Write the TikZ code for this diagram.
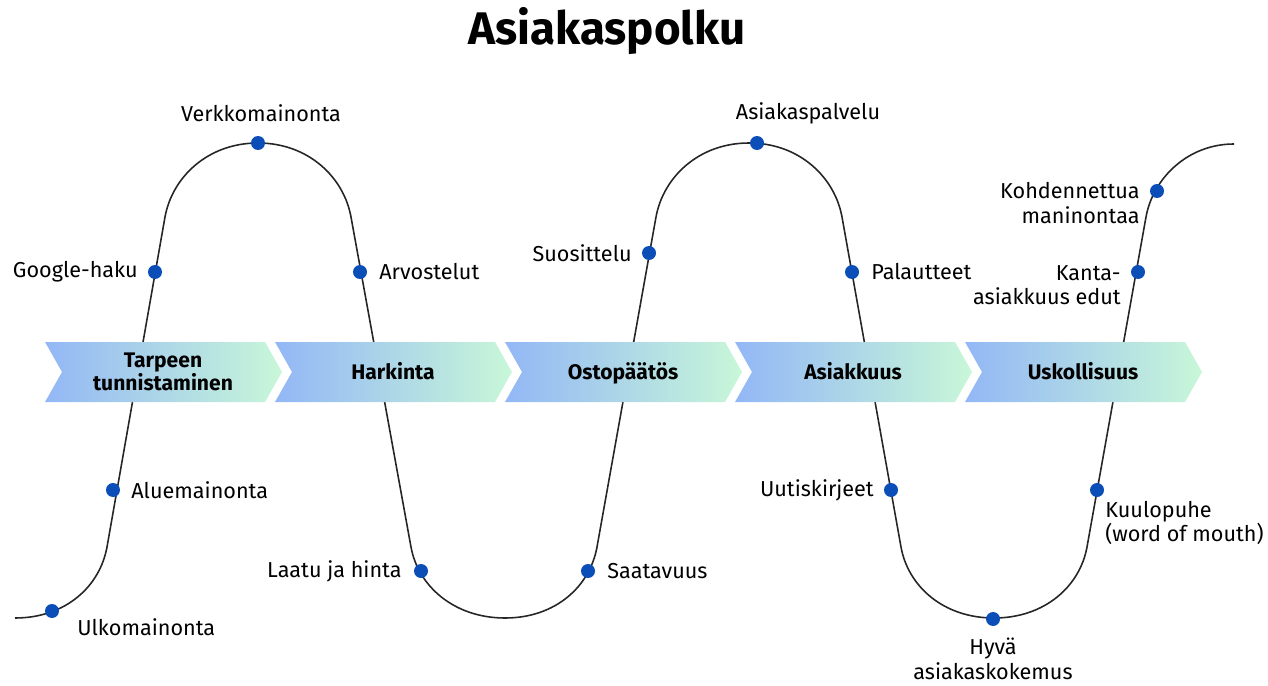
\documentclass[tikz,border=0pt]{standalone}
\usepackage{fontspec}
\setmainfont{Fira Sans}
\usepackage{xcolor}
\usepackage{tikz}
\definecolor{dotblue}{HTML}{0B4EB8}
\definecolor{chevleft}{HTML}{93B7F6}
\definecolor{chevright}{HTML}{C8F7D8}
\tikzset{
  dot/.style={circle, fill=dotblue, inner sep=0pt, minimum size=0.28cm},
  lbl/.style={font=\fontsize{12.3}{14}\selectfont, inner sep=0pt},
  stage/.style={font=\bfseries\fontsize{12}{13.5}\selectfont, align=center, inner sep=0pt},
  path line/.style={line width=0.9pt, black!85}
}

\begin{document}
\begin{tikzpicture}[x=0.02cm, y=-0.02cm]
    \useasboundingbox (0,0) rectangle (1268,686);

    \node[font=\bfseries\fontsize{26}{30}\selectfont] at (607,31) (title) {Asiakaspolku};

    % polku
    \draw[path line] (15,618) .. controls (66,618) and (100,586) .. (107,547)
        -- (165,217) .. controls (172,178) and (207,143) .. (258,143)
        .. controls (309,143) and (344,178) .. (351,217)
        -- (411,547) .. controls (418,586) and (454,618) .. (505,618)
        .. controls (556,618) and (590,586) .. (597,547)
        -- (656,217) .. controls (663,178) and (698,143) .. (749,143)
        .. controls (800,143) and (835,178) .. (842,217)
        -- (901,547) .. controls (908,586) and (943,618) .. (994,618)
        .. controls (1045,618) and (1080,586) .. (1087,547)
        -- (1146,217) .. controls (1153,178) and (1188,144) .. (1234,144);

    % vaiheet
    \foreach \i in {0,...,4} {
        \pgfmathsetmacro\xo{45+230*\i}
        \shade[left color=chevleft, right color=chevright] (\xo,342) -- ++(220,0) -- ++(17,30) -- ++(-17,30) -- ++(-220,0) -- ++(17,-30) -- cycle;
    }
    \node[stage] at (163,372) (stage0) {Tarpeen\\tunnistaminen};
    \foreach \i/\txt in {1/Harkinta, 2/Ostopäätös, 3/Asiakkuus, 4/Uskollisuus} {
        \node[stage, anchor=base] at (163+230*\i,379) (stage\i) {\txt};
    }

    \node[dot] at (52,611) (ulko) {};
    \node[dot] at (113,490) (alue) {};
    \node[dot] at (155,272) (google) {};
    \node[dot] at (258,143) (verkko) {};
    \node[dot] at (360,272) (arvo) {};
    \node[dot] at (421,571) (laatu) {};
    \node[dot] at (588,571) (saata) {};
    \node[dot] at (649,253) (suos) {};
    \node[dot] at (757,143) (palvelu) {};
    \node[dot] at (852,272) (palaute) {};
    \node[dot] at (891,490) (uutis) {};
    \node[dot] at (993,619) (hyva) {};
    \node[dot] at (1097,490) (kuulo) {};
    \node[dot] at (1138,272) (kanta) {};
    \node[dot] at (1157,191) (kohd) {};

    % tekstit
    \node[lbl, anchor=west] at (77,627) (ulkoL) {Ulkomainonta};
    \node[lbl, anchor=west] at (131,490) (alueL) {Aluemainonta};
    \node[lbl, anchor=east] at (138,272) (googleL) {Google-haku};
    \node[lbl] at (261,113) (verkkoL) {Verkkomainonta};
    \node[lbl, anchor=west] at (379,272) (arvoL) {Arvostelut};
    \node[lbl, anchor=east] at (402,571) (laatuL) {Laatu ja hinta};
    \node[lbl, anchor=west] at (607,571) (saataL) {Saatavuus};
    \node[lbl, anchor=east] at (632,253) (suosL) {Suosittelu};
    \node[lbl] at (808,113) (palveluL) {Asiakaspalvelu};
    \node[lbl, anchor=west] at (871,272) (palauteL) {Palautteet};
    \node[lbl, anchor=east] at (874,490) (uutisL) {Uutiskirjeet};
    \node[lbl, align=center] at (993,659) (hyvaL) {Hyvä\\asiakaskokemus};
    \node[lbl, align=left, anchor=west] at (1105,523) (kuuloL) {Kuulopuhe\\(word of mouth)};
    \node[lbl, align=right, anchor=east] at (1121,285) (kantaL) {Kanta-\\asiakkuus edut};
    \node[lbl, align=right, anchor=east] at (1140,203) (kohdL) {Kohdennettua\\maninontaa};
\end{tikzpicture}
\end{document}
